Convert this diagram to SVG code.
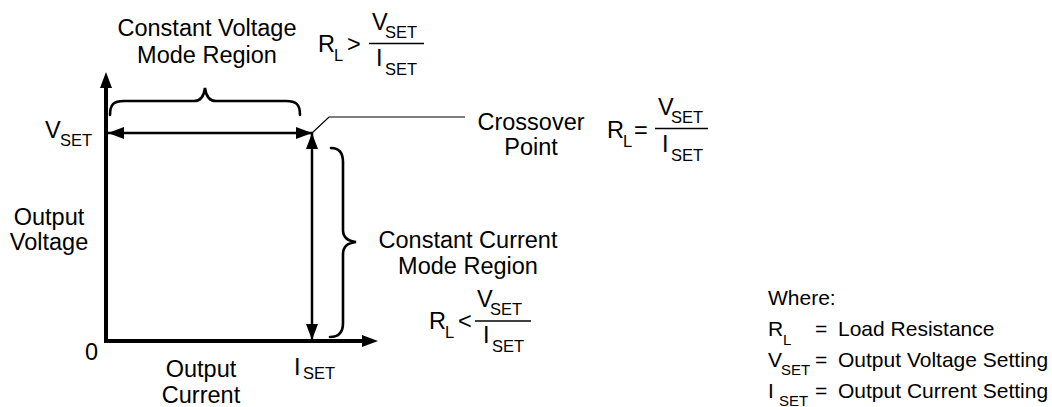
<svg xmlns="http://www.w3.org/2000/svg" width="1052" height="407" viewBox="0 0 1052 407">
<style>
text{font-family:"Liberation Sans",Arial,sans-serif;fill:#000;font-size:23.5px}
.s{font-size:16.5px}
.m{text-anchor:middle}
#legend text{font-size:21px}
#legend text.s{font-size:15px}
.ax{stroke:#000;stroke-width:4;fill:none}
.da{stroke:#000;stroke-width:2.5;fill:none}
.br{stroke:#000;stroke-width:2.6;fill:none;stroke-linecap:round}
.ld{stroke:#000;stroke-width:1.2;fill:none}
.fr{stroke:#000;stroke-width:1.5}
</style>
<defs>
<marker id="ah" markerUnits="userSpaceOnUse" markerWidth="16" markerHeight="12" refX="16" refY="6" orient="auto-start-reverse" viewBox="0 0 16 12">
<path d="M0,0 L16,6 L0,12 z" fill="#000"/>
</marker>
</defs>
<rect width="1052" height="407" fill="#fff"/>
<g id="connectors">
<path class="ax" d="M106,341 V86"/>
<path d="M100,88 L106,72 L112,88 z" fill="#000"/>
<path class="ax" d="M104,341 H364"/>
<path d="M362,335 L378,341 L362,347 z" fill="#000"/>
<line class="da" x1="108" y1="133" x2="312" y2="133" marker-start="url(#ah)" marker-end="url(#ah)"/>
<line class="da" x1="312" y1="133" x2="312" y2="340" marker-start="url(#ah)" marker-end="url(#ah)"/>
<path class="ld" d="M312,133 L329,117 H465"/>
</g>
<g id="brace-cv">
<path class="br" d="M110,115 C110,104 114,101 124,101 H194 C201,101 204,96 205,88 C206,96 209,101 216,101 H286 C296,101 300,104 300,115"/>
</g>
<g id="brace-cc">
<path class="br" d="M331,148 C339,148 343,152 343,162 V230 C343,237 347,241 356,242 C347,243 343,247 343,254 V323 C343,332 339,337 330,337"/>
</g>
<g id="label-cv">
<text class="m" x="207" y="36">Constant Voltage</text>
<text class="m" x="207" y="63">Mode Region</text>
</g>
<g id="formula-cv">
<text x="318" y="52">R</text><text class="s" x="334" y="61">L</text>
<text x="347" y="52">&gt;</text>
<line class="fr" x1="369" y1="43.5" x2="424" y2="43.5"/>
<text x="372" y="30">V</text><text class="s" x="385" y="38">SET</text>
<text x="376" y="66">I</text><text class="s" x="385" y="75">SET</text>
</g>
<g id="label-vset">
<text x="45" y="138">V</text><text class="s" x="60" y="146">SET</text>
</g>
<g id="label-crossover">
<text class="m" x="531" y="130">Crossover</text>
<text class="m" x="531" y="155">Point</text>
</g>
<g id="formula-crossover">
<text x="607" y="138">R</text><text class="s" x="623" y="147">L</text>
<text x="634" y="138">=</text>
<line class="fr" x1="655" y1="128.5" x2="708" y2="128.5"/>
<text x="658" y="115">V</text><text class="s" x="671" y="123">SET</text>
<text x="662" y="152">I</text><text class="s" x="671" y="161">SET</text>
</g>
<g id="label-output-voltage">
<text class="m" x="49" y="225">Output</text>
<text class="m" x="49" y="250">Voltage</text>
</g>
<g id="label-zero"><text x="85" y="360">0</text></g>
<g id="label-output-current">
<text class="m" x="201" y="377">Output</text>
<text class="m" x="201" y="403">Current</text>
</g>
<g id="label-iset">
<text x="294" y="375">I</text><text class="s" x="303" y="379">SET</text>
</g>
<g id="label-cc">
<text class="m" x="468" y="248">Constant Current</text>
<text class="m" x="468" y="274">Mode Region</text>
</g>
<g id="formula-cc">
<text x="429" y="329">R</text><text class="s" x="445" y="338">L</text>
<text x="458" y="329">&lt;</text>
<line class="fr" x1="475" y1="321" x2="531" y2="321"/>
<text x="477" y="307">V</text><text class="s" x="490" y="315">SET</text>
<text x="483" y="343">I</text><text class="s" x="492" y="352">SET</text>
</g>
<g id="legend">
<text x="768" y="305">Where:</text>
<text x="768" y="336">R</text><text class="s" x="783" y="345">L</text>
<text x="815" y="336">=</text><text x="838" y="336">Load Resistance</text>
<text x="768" y="367">V</text><text class="s" x="781" y="375">SET</text>
<text x="815" y="367">=</text><text x="838" y="367">Output Voltage Setting</text>
<text x="768" y="398">I</text><text class="s" x="779" y="406">SET</text>
<text x="815" y="398">=</text><text x="838" y="398">Output Current Setting</text>
</g>
</svg>
